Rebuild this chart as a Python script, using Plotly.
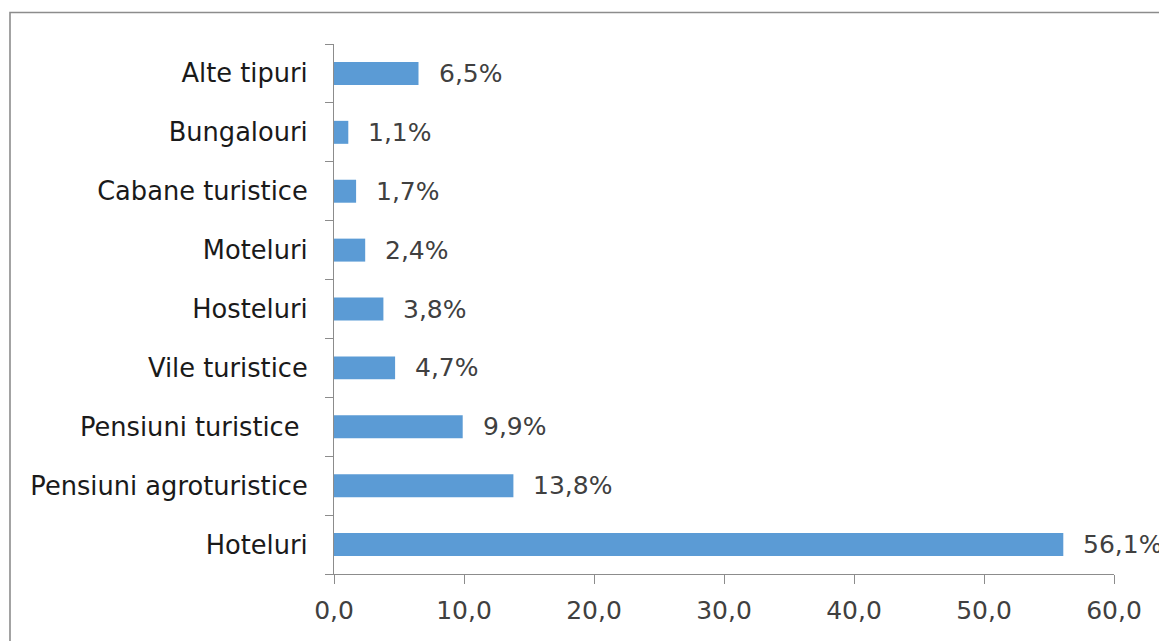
import plotly.graph_objects as go

categories = ["Hoteluri", "Pensiuni agroturistice", "Pensiuni turistice\u00a0", "Vile turistice",
              "Hosteluri", "Moteluri", "Cabane turistice", "Bungalouri", "Alte tipuri"]
values = [56.1, 13.8, 9.9, 4.7, 3.8, 2.4, 1.7, 1.1, 6.5]
x_ticks = [0, 10, 20, 30, 40, 50, 60]

FONT = "DejaVu Sans"
OFF = 8  # page body margin
W, H = 1167 - OFF, 641 - OFF
ml, mr, mt, mb = 334 - OFF, 53, 44 - OFF, 67

fig = go.Figure()
fig.add_trace(go.Bar(
    y=categories, x=values, orientation="h",
    marker=dict(color="#5B9BD5", line=dict(width=0)),
    hoverinfo="skip",
))

for c, v in zip(categories, values):
    fig.add_annotation(x=v, y=c, text=f"{v:.1f}".replace(".", ",") + "%",
                       xanchor="left", yanchor="middle", xshift=18, showarrow=False,
                       font=dict(family=FONT, size=25, color="#404040"))

pw = W - ml - mr
ph = H - mt - mb
bx0 = (10 - OFF - ml) / pw
by1 = (H - mb - (12.5 - OFF)) / ph
fig.add_shape(type="rect", xref="paper", yref="paper",
              x0=bx0, x1=1.3, y0=-0.5, y1=by1,
              line=dict(color="#8C8C8C", width=1.6))

fig.update_layout(
    width=W, height=H,
    margin=dict(l=ml, r=mr, t=mt, b=mb, pad=0),
    plot_bgcolor="white", paper_bgcolor="white",
    separators=",.",
    bargap=0.61,
    showlegend=False,
    xaxis=dict(range=[0, 60], tickvals=x_ticks, tickformat=".1f",
               showgrid=False, zeroline=False,
               showline=True, linecolor="#8C8C8C", linewidth=1.3,
               ticks="outside", ticklen=9, tickcolor="#8C8C8C", tickwidth=1.3,
               tickfont=dict(family=FONT, size=25, color="#404040"),
               ticklabelstandoff=5),
    yaxis=dict(showgrid=False, zeroline=False, tickson="boundaries",
               showline=True, linecolor="#8C8C8C", linewidth=1.3,
               ticks="outside", ticklen=8, tickcolor="#8C8C8C", tickwidth=1.3,
               tickfont=dict(family=FONT, size=25.7, color="#1a1a1a"),
               ticklabelstandoff=20),
)

fig.write_html("out.html")
